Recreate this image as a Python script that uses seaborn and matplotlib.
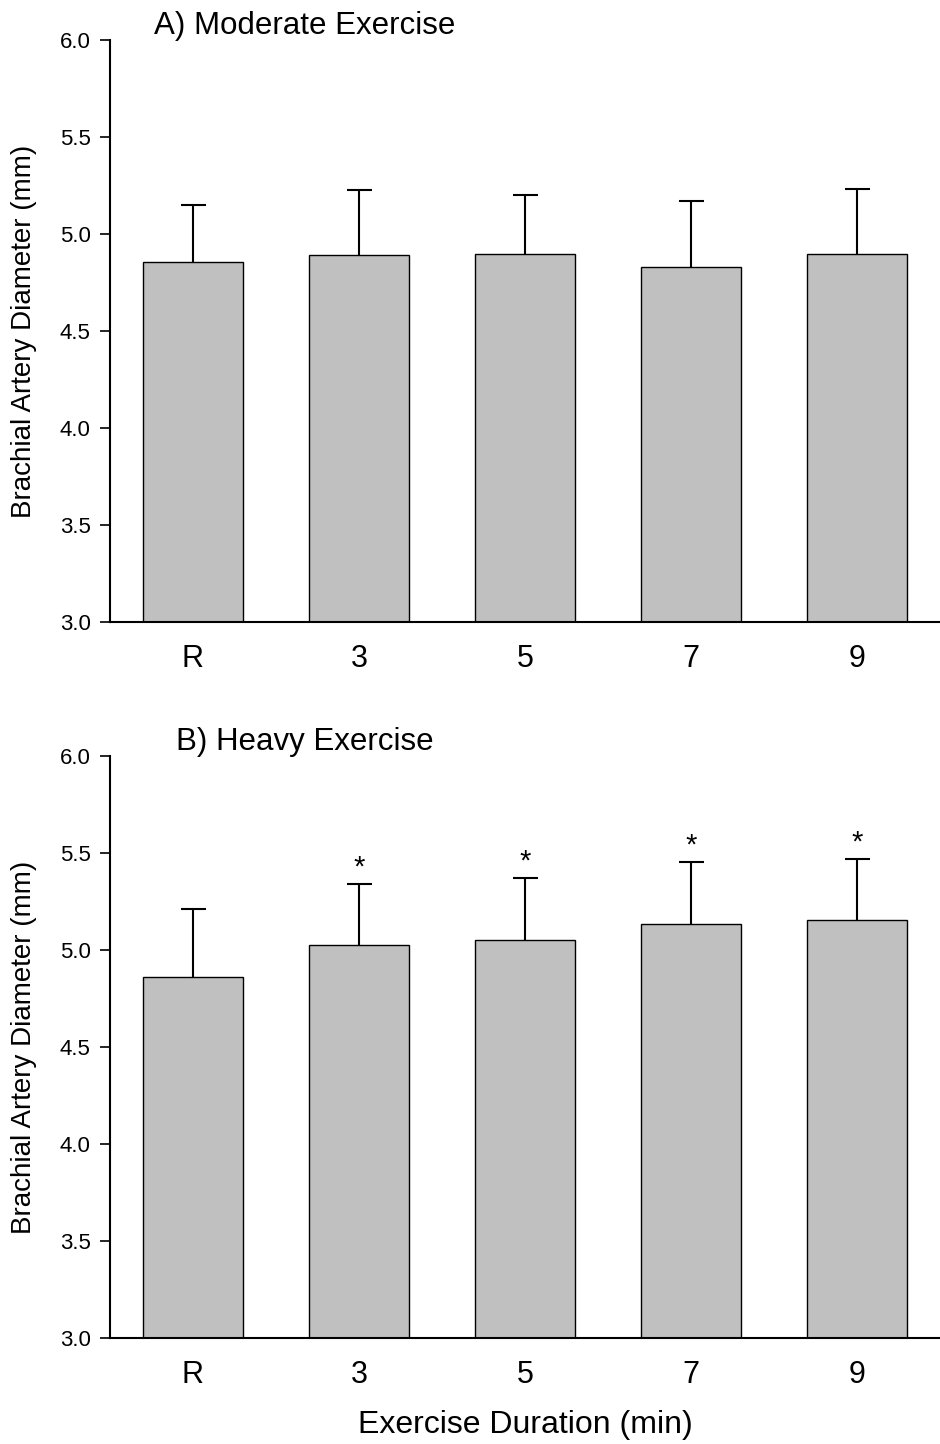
import matplotlib
matplotlib.use("Agg")
import matplotlib.pyplot as plt
import seaborn as sns
import numpy as np

# Exercise time points
durations = ["R", "3", "5", "7", "9"]

# A) moderate exercise: mean diameter and upper error (mm)
moderate_mean = [4.855, 4.890, 4.897, 4.831, 4.898]
moderate_err = [0.293, 0.337, 0.303, 0.339, 0.334]

# B) heavy exercise
heavy_mean = [4.861, 5.027, 5.051, 5.135, 5.154]
heavy_err = [0.349, 0.314, 0.322, 0.320, 0.316]
heavy_sig = [False, True, True, True, True]

sns.set_style("ticks")
plt.rcParams['font.family'] = ['Liberation Sans', 'DejaVu Sans']
plt.rcParams.update({"text.color": "black", "axes.labelcolor": "black",
                     "xtick.color": "black", "ytick.color": "black",
                     "axes.edgecolor": "black"})

fig = plt.figure(figsize=(9.4, 14.44), dpi=100)
ax_top = fig.add_axes([110 / 940, 1 - 622 / 1444, 830 / 940, 582 / 1444])
ax_bot = fig.add_axes([110 / 940, 1 - 1338 / 1444, 830 / 940, 582 / 1444])


def draw_panel(ax, means, errs, title, sig=None):
    sns.barplot(x=durations, y=means, color="#c0c0c0", edgecolor="black",
                linewidth=1.0, width=0.6, saturation=1, ax=ax, zorder=2)
    pos = np.arange(len(durations))
    _, caps, _ = ax.errorbar(pos, means, yerr=[np.zeros(len(errs)), errs], fmt="none",
                             ecolor="black", elinewidth=1.5, capsize=9, capthick=1.5,
                             zorder=1)
    caps[0].set_visible(False)  # only the upper cap
    if sig is not None:
        for p, m, e, s in zip(pos, means, errs, sig):
            if s:
                ax.annotate("*", (p, m + e), xytext=(0, 6), textcoords="offset points",
                            ha="center", va="baseline", fontsize=21)
    ax.set_xlim(-0.5, 4.5)
    ax.set_ylim(3.0, 6.0)
    ax.set_yticks(np.arange(3.0, 6.01, 0.5))
    ax.set_yticklabels([f"{v:.1f}" for v in np.arange(3.0, 6.01, 0.5)])
    ax.tick_params(axis="y", labelsize=16, length=7, width=1.2, pad=7, direction="out")
    ax.tick_params(axis="x", labelsize=22, length=0, pad=16)
    sns.despine(ax=ax)
    for sp in ["left", "bottom"]:
        ax.spines[sp].set_linewidth(1.5)
    ax.set_ylabel("Brachial Artery Diameter (mm)", fontsize=20)
    ax.yaxis.set_label_coords(-0.088, 0.5)
    ax.set_xlabel("")
    ax.text(0.235, 1.01, title, transform=ax.transAxes, ha="center",
            va="baseline", fontsize=22.5)


draw_panel(ax_top, moderate_mean, moderate_err, "A) Moderate Exercise")
draw_panel(ax_bot, heavy_mean, heavy_err, "B) Heavy Exercise", heavy_sig)
ax_bot.set_xlabel("Exercise Duration (min)", fontsize=23, labelpad=14)

fig.savefig("out.png", dpi=100)
